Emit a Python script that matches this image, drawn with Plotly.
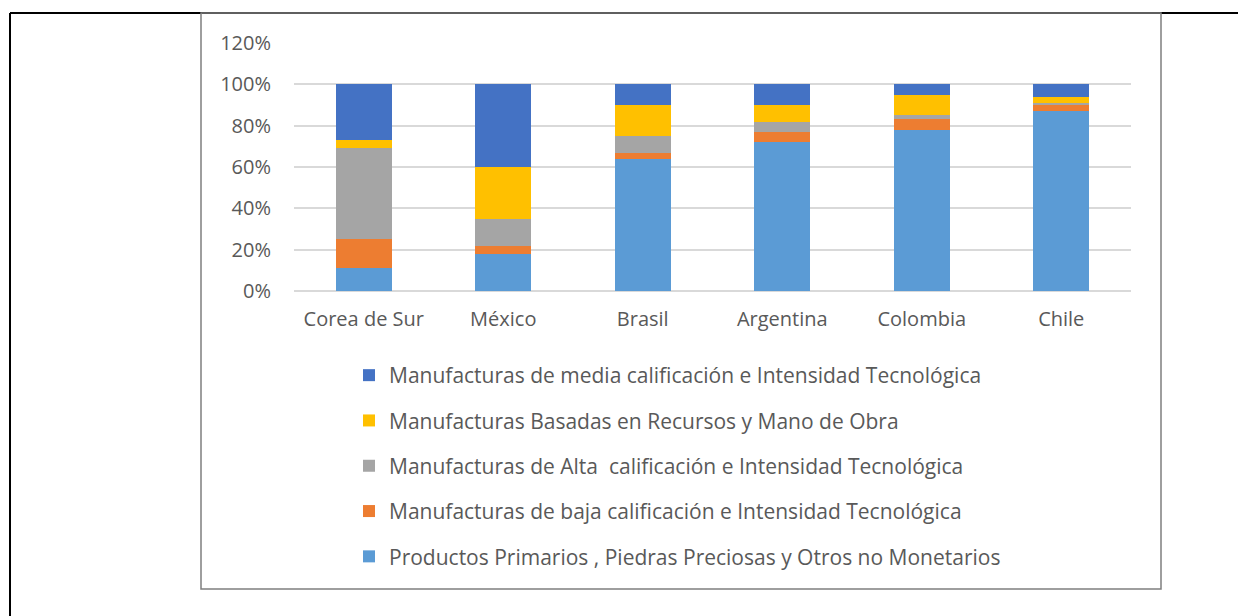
import plotly.graph_objects as go

# countries on the x axis
paises = ["Corea de Sur", "México", "Brasil", "Argentina", "Colombia", "Chile"]

# shares of exports (%), bottom to top of each stack
primarios = [11, 18, 64, 72, 78, 87]
baja = [14, 4, 3, 5, 5, 3]
alta = [44, 13, 8, 5, 2, 1]
recursos = [4, 25, 15, 8, 10, 3]
media = [27, 40, 10, 10, 5, 6]

nombres = [
    "Productos Primarios , Piedras Preciosas y Otros no Monetarios",
    "Manufacturas de baja calificación e Intensidad Tecnológica",
    "Manufacturas de Alta  calificación e Intensidad Tecnológica",
    "Manufacturas Basadas en Recursos y Mano de Obra",
    "Manufacturas de media calificación e Intensidad Tecnológica",
]
colores = ["#5B9BD5", "#ED7D31", "#A5A5A5", "#FFC000", "#4472C4"]
series = [primarios, baja, alta, recursos, media]

# the page body has an 8px margin, so the figure is drawn 8px smaller
OFF = 8
W, H = 1246 - OFF, 616 - OFF
FONT = "Open Sans"
GRIS = "#595959"
FS = 20

fig = go.Figure()
for i, (nombre, vals, col) in enumerate(zip(nombres, series, colores)):
    fig.add_trace(go.Bar(
        x=paises, y=vals, name=nombre, legendgroup=str(i),
        legendrank=len(series) - i,
        marker=dict(color=col, line=dict(width=0)),
    ))

# page pixel -> paper coordinate
def px(x):
    return (x - OFF) / W

def py(y):
    return 1 - (y - OFF) / H

fig.update_layout(
    width=W, height=H,
    barmode="stack", bargap=0.6,
    paper_bgcolor="white", plot_bgcolor="white",
    margin=dict(l=0, r=0, t=0, b=0, autoexpand=False),
    font=dict(family=FONT, size=FS, color=GRIS),
    xaxis=dict(domain=[px(294), px(1131)], showgrid=False, showline=False,
               zeroline=False, ticks="", tickfont=dict(size=FS, color=GRIS),
               ticklabelstandoff=14, anchor="y"),
    yaxis=dict(domain=[py(291), py(43)], range=[0, 120], dtick=20,
               ticksuffix="%", showgrid=True, gridcolor="#D9D9D9", gridwidth=1.5,
               zeroline=True, zerolinecolor="#D9D9D9", zerolinewidth=1.5,
               showline=False, ticks="", tickfont=dict(size=FS, color=GRIS),
               ticklabelstandoff=22, anchor="x"),
    legend=dict(orientation="v", x=px(349), y=py(355), xanchor="left", yanchor="top",
                traceorder="grouped", tracegroupgap=15,
                font=dict(size=21, color=GRIS), bgcolor="rgba(0,0,0,0)"),
    shapes=[
        # outer black frame (runs off the page right and bottom)
        dict(type="line", xref="paper", yref="paper", x0=px(10), x1=px(1260),
             y0=py(13), y1=py(13), line=dict(color="black", width=2)),
        dict(type="line", xref="paper", yref="paper", x0=px(10), x1=px(10),
             y0=py(13), y1=py(630), line=dict(color="black", width=2)),
        # grey chart frame
        dict(type="rect", xref="paper", yref="paper", x0=px(201), x1=px(1161),
             y0=py(589), y1=py(13), line=dict(color="#7F7F7F", width=1.5)),
    ],
)

fig.write_html("out.html")
